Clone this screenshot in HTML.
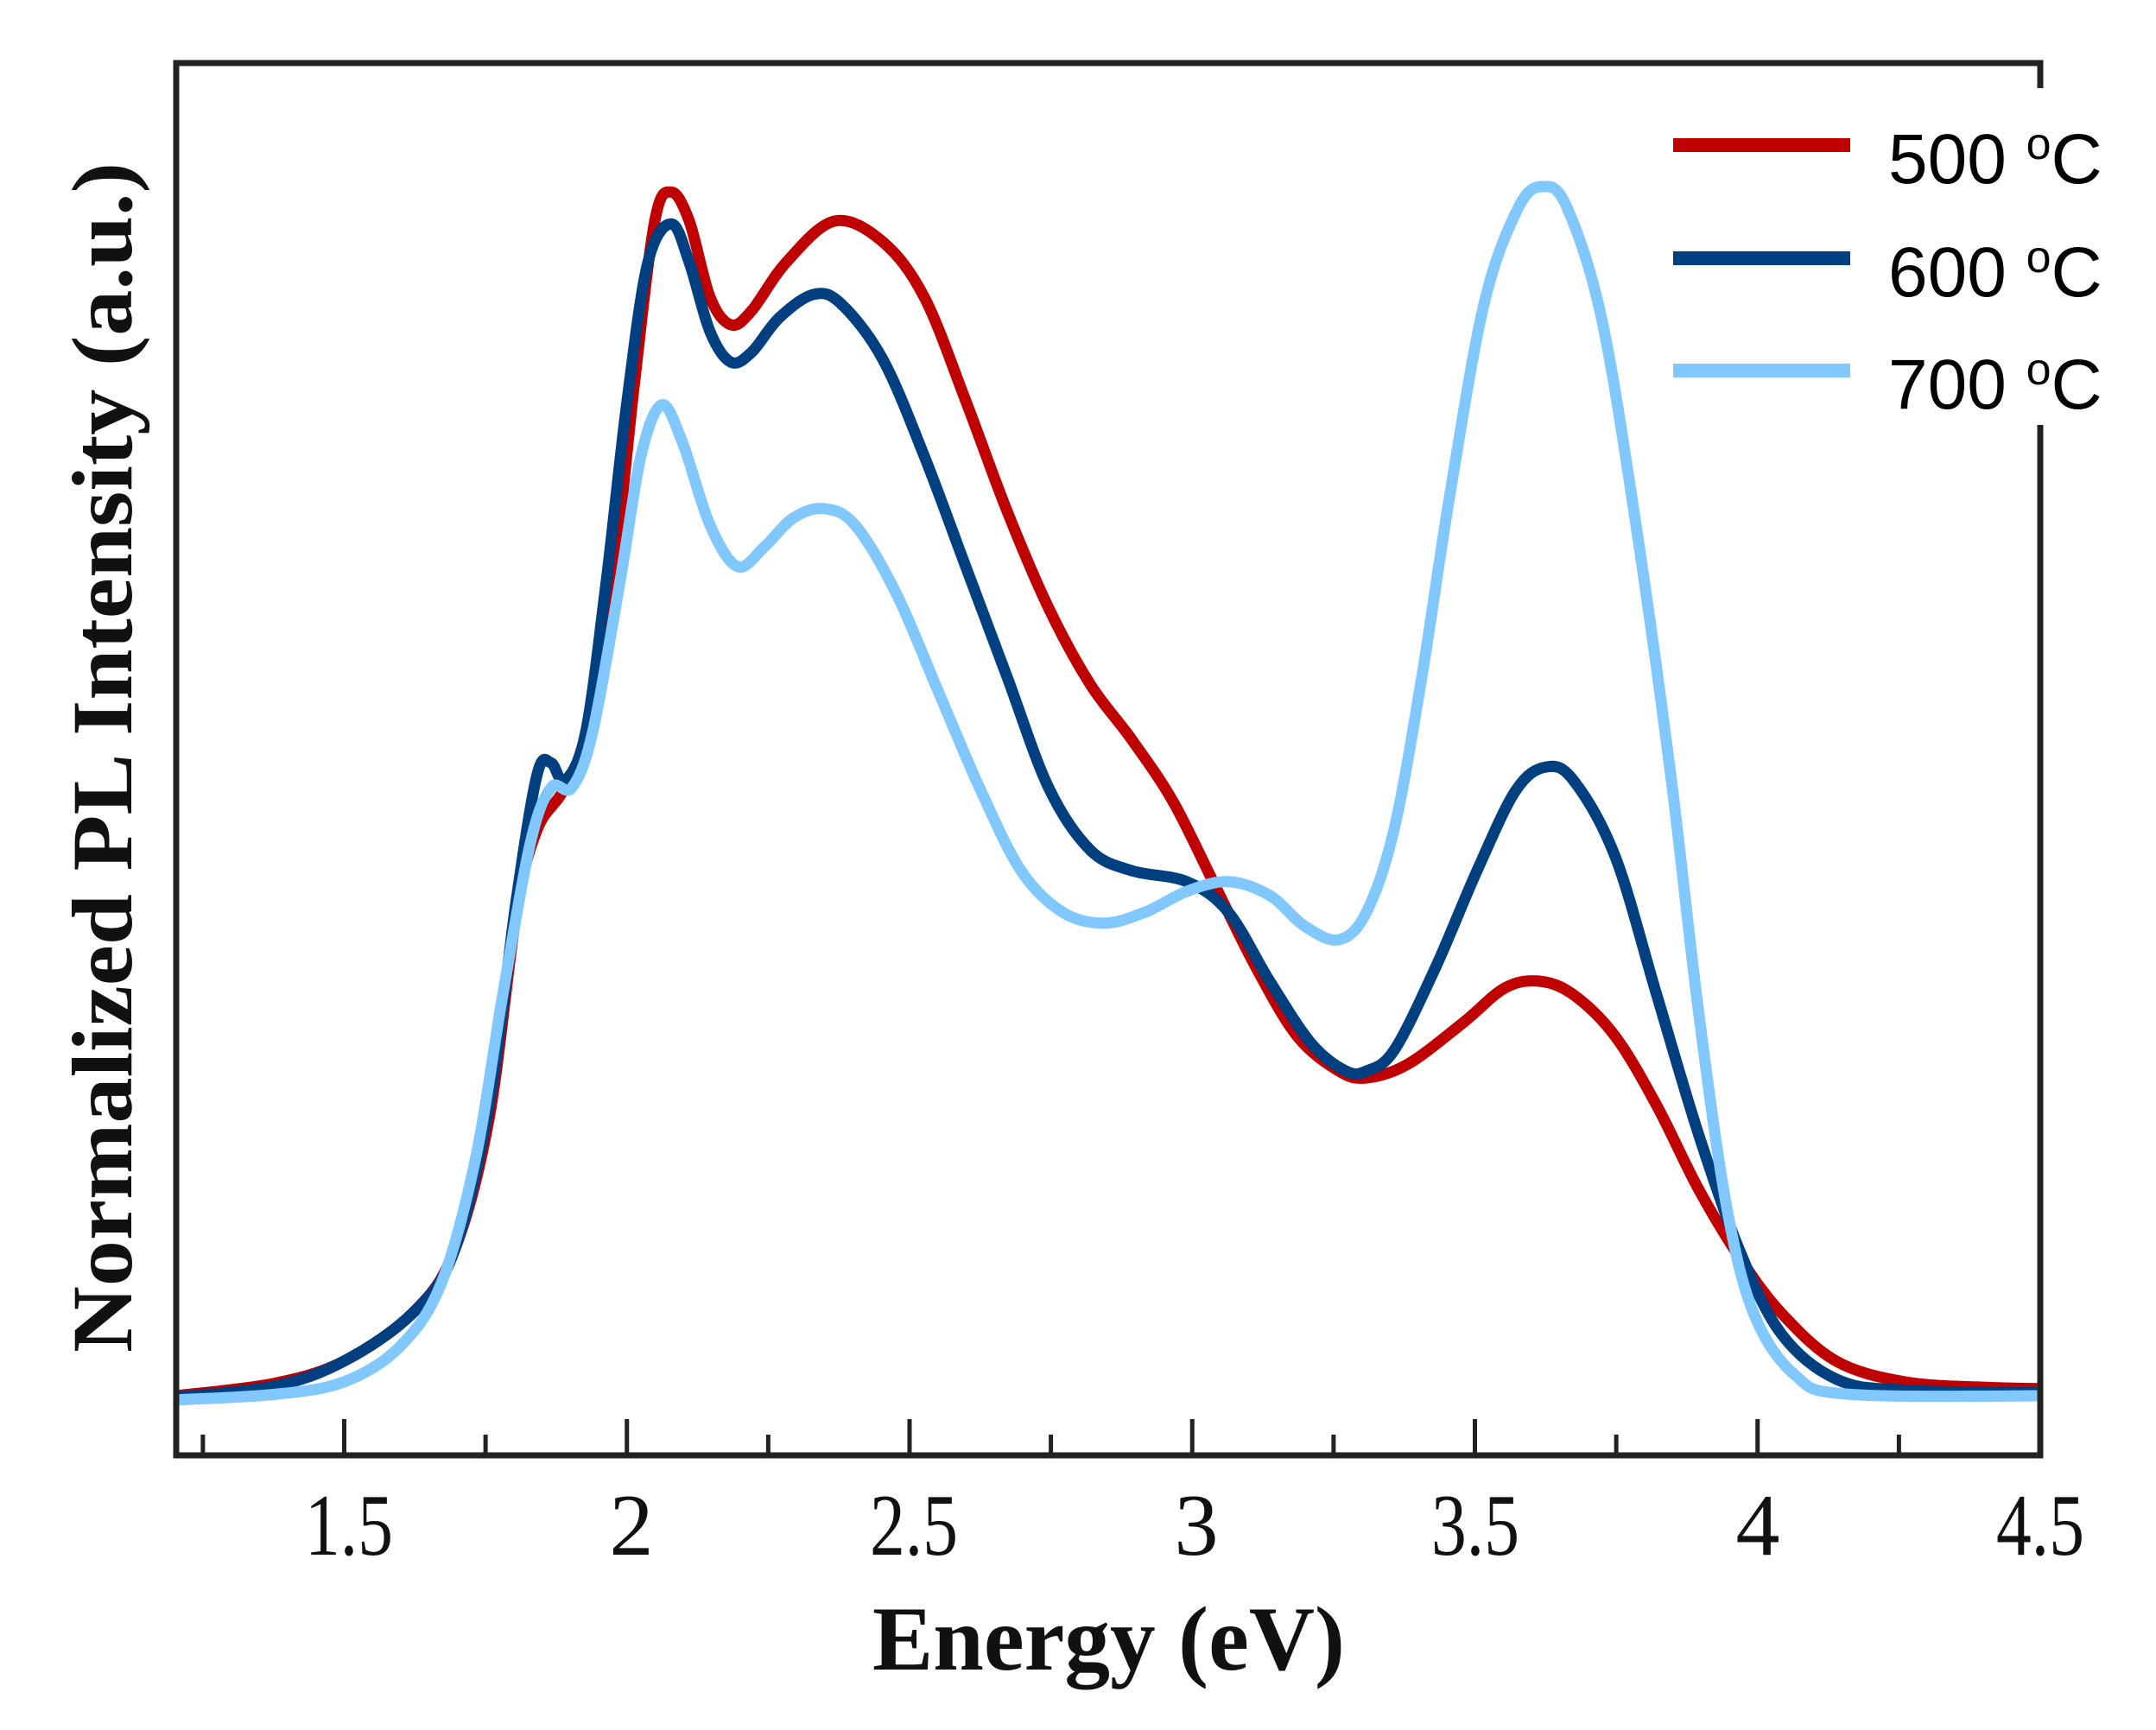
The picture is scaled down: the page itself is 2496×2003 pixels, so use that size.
<!DOCTYPE html>
<html><head><meta charset="utf-8"><style>html,body{margin:0;padding:0;background:#fff}svg{display:block}</style></head>
<body>
<svg id="s" width="2496" height="2003" viewBox="0 0 2496 2003" xmlns="http://www.w3.org/2000/svg">
<defs><clipPath id="c"><rect x="204" y="73" width="2158" height="1612"/></clipPath></defs>
<g clip-path="url(#c)" fill="none" stroke-linejoin="round" stroke-linecap="round">
<path id="red" stroke="#c00000" stroke-width="13"/>
<path id="blue" stroke="#003f80" stroke-width="13"/>
<path id="light" stroke="#80c8ff" stroke-width="13"/>
</g>
<g stroke="#222" stroke-width="7" fill="none">
<polyline points="2362,102 2362,73 204,73 204,1685 2362,1685 2362,492"/>
</g>
<g id="ticks" stroke="#222" stroke-width="5"></g>
<g font-family="Liberation Serif, serif" font-size="102" fill="#111" text-anchor="middle">
<text x="404" y="1800" textLength="102" lengthAdjust="spacingAndGlyphs">1.5</text>
<text x="731" y="1800">2</text>
<text x="1058" y="1800" textLength="102" lengthAdjust="spacingAndGlyphs">2.5</text>
<text x="1385" y="1800">3</text>
<text x="1708" y="1800" textLength="102" lengthAdjust="spacingAndGlyphs">3.5</text>
<text x="2035" y="1800">4</text>
<text x="2362" y="1800" textLength="102" lengthAdjust="spacingAndGlyphs">4.5</text>
</g>
<text x="1010" y="1933" font-family="Liberation Serif, serif" font-weight="bold" font-size="106" textLength="547" lengthAdjust="spacingAndGlyphs" fill="#111">Energy (eV)</text>
<text transform="translate(152,1566) rotate(-90)" x="0" y="0" font-family="Liberation Serif, serif" font-weight="bold" font-size="100" textLength="1378" lengthAdjust="spacingAndGlyphs" fill="#111">Normalized PL Intensity (a.u.)</text>
<g stroke-width="16">
<line x1="1937" y1="168" x2="2142" y2="168" stroke="#c00000"/>
<line x1="1937" y1="299" x2="2142" y2="299" stroke="#003f80"/>
<line x1="1937" y1="429" x2="2142" y2="429" stroke="#80c8ff"/>
</g>
<g font-family="Liberation Sans, sans-serif" font-size="82" fill="#000">
<text x="2186" y="212">500 <tspan font-size="52" dy="-28">o</tspan><tspan dy="28">C</tspan></text>
<text x="2186" y="343">600 <tspan font-size="52" dy="-28">o</tspan><tspan dy="28">C</tspan></text>
<text x="2186" y="473">700 <tspan font-size="52" dy="-28">o</tspan><tspan dy="28">C</tspan></text>
</g>
</svg>
<script>
var K=1.6;
function sm(p){p=p.map(function(a){return [a[0]*K-2,a[1]*K];});var d="M"+p[0][0]+","+p[0][1];
for(var i=0;i<p.length-1;i++){var p0=p[i-1]||p[i],p1=p[i],p2=p[i+1],p3=p[i+2]||p2;
d+=" C"+(p1[0]+(p2[0]-p0[0])/6)+","+(p1[1]+(p2[1]-p0[1])/6)+" "+(p2[0]-(p3[0]-p1[0])/6)+","+(p2[1]-(p3[1]-p1[1])/6)+" "+p2[0]+","+p2[1];}return d;}
var red=[[129,1010],[200,1001],[250,985],[300,950],[330,905],[355,810],[375,660],[390,600],[410,570],[430,520],[445,420],[460,280],[475,160],[487,139],[500,160],[515,215],[530,235],[545,225],[570,190],[605,160],[640,175],[670,215],[700,290],[730,370],[760,440],[790,495],[820,535],[850,580],[880,640],[910,700],[940,750],[970,775],[990,780],[1020,770],[1060,740],[1090,715],[1115,710],[1140,720],[1170,750],[1200,800],[1230,860],[1260,910],[1290,950],[1330,985],[1380,1000],[1440,1004],[1490,1005]];
var blue=[[129,1011],[200,1003],[250,985],[300,950],[330,905],[355,800],[375,650],[390,560],[400,552],[410,565],[425,530],[440,420],[455,290],[470,190],[487,162],[500,190],[515,240],[530,262],[545,255],[565,230],[590,213],[610,220],[640,260],[670,330],[700,410],[730,490],[760,570],[790,615],[820,630],[860,638],[890,660],[920,710],[950,755],[975,775],[990,775],[1010,760],[1040,700],[1070,630],[1098,572],[1120,555],[1140,565],[1170,620],[1200,720],[1230,820],[1260,905],[1290,965],[1330,998],[1380,1006],[1490,1008]];
var light=[[129,1013],[200,1009],[250,1000],[290,975],[320,930],[345,840],[365,720],[385,610],[400,570],[415,570],[430,530],[450,420],[465,330],[480,293],[495,320],[515,380],[535,410],[555,395],[575,375],[597,368],[620,380],[650,430],[680,500],[710,570],[740,630],[770,660],[800,668],[830,660],[860,645],[890,638],[920,648],[945,670],[970,680],[990,660],[1010,600],[1030,490],[1050,360],[1075,220],[1100,150],[1118,135],[1135,150],[1160,230],[1185,380],[1210,560],[1230,730],[1250,870],[1270,950],[1300,995],[1340,1009],[1490,1010]];
document.getElementById('red').setAttribute('d',sm(red));
document.getElementById('blue').setAttribute('d',sm(blue));
document.getElementById('light').setAttribute('d',sm(light));
var g=document.getElementById('ticks'),h='';
for(var e=1.25;e<4.5;e+=0.25){var x=2362-(4.5-e)*654.5;var maj=Math.abs(e*2-Math.round(e*2))<1e-6;
h+='<line x1="'+x+'" y1="1685" x2="'+x+'" y2="'+(maj?1643:1661)+'"/>';}
g.innerHTML=h;
</script>
</body></html>
